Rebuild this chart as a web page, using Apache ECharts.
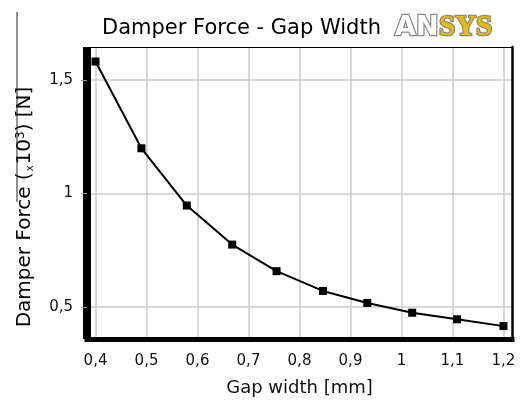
<!DOCTYPE html>
<html>
<head>
<meta charset="utf-8">
<script src="https://cdn.jsdelivr.net/npm/echarts@6/dist/echarts.min.js"></script>
<style>
  html, body { margin: 0; padding: 0; background: #fff; }
  #chart { width: 521px; height: 402px; }
</style>
</head>
<body>
<div id="chart"></div>
<script>
// Gap width [mm] and corresponding damper force [x10^3 N]
const gapWidth = [0.4, 0.49, 0.579, 0.668, 0.755, 0.846, 0.933, 1.021, 1.109, 1.2];
const damperForce = [1.581, 1.199, 0.947, 0.775, 0.658, 0.571, 0.518, 0.475, 0.446, 0.416];

// Tick positions shown on each axis
const xTicks = [0.4, 0.5, 0.6, 0.7, 0.8, 0.9, 1.0, 1.1, 1.2];
const yTicks = [0.5, 1, 1.5];

const chartTitle = 'Damper Force - Gap Width';
const xTitle = 'Gap width [mm]';

const FONT = 'DejaVu Sans';
const decimalComma = v => String(+v.toFixed(2)).replace('.', ',');

const chart = echarts.init(document.getElementById('chart'), null, { renderer: 'canvas' });

const gridLine = { show: true, lineStyle: { color: '#cdcdcd', width: 1.5 } };
const bare = {
  axisLabel: { show: false }, axisTick: { show: false }, splitLine: { show: false }
};

chart.setOption({
  animation: false,
  backgroundColor: '#fff',
  grid: { left: 87, right: 9, top: 47, bottom: 58, containLabel: false },
  xAxis: [
    {
      type: 'value', position: 'bottom',
      min: 0.3833, max: 1.2167,
      axisLine: { show: true, onZero: false, lineStyle: { color: '#000', width: 5, cap: 'square' } },
      axisTick: { show: false, customValues: xTicks },
      splitLine: gridLine,
      axisLabel: {
        customValues: xTicks, formatter: decimalComma,
        color: '#111', fontFamily: FONT, fontSize: 15, margin: 15
      },
      name: xTitle, nameLocation: 'middle', nameGap: 40,
      nameTextStyle: { color: '#111', fontFamily: FONT, fontSize: 18 }
    },
    {
      type: 'value', position: 'top', min: 0.3833, max: 1.2167,
      axisLine: { show: true, lineStyle: { color: '#000', width: 1.2 } }, ...bare
    }
  ],
  yAxis: [
    {
      type: 'value', position: 'left',
      min: 0.3593, max: 1.645,
      axisLine: { show: true, onZero: false, lineStyle: { color: '#000', width: 8, cap: 'butt' } },
      axisTick: { show: true, customValues: yTicks, length: 6, lineStyle: { color: '#999', width: 1 } },
      splitLine: gridLine,
      axisLabel: {
        customValues: yTicks, formatter: decimalComma,
        color: '#111', fontFamily: FONT, fontSize: 15, margin: 14
      }
    },
    {
      type: 'value', position: 'right', min: 0.3593, max: 1.645,
      axisLine: { show: true, lineStyle: { color: '#000', width: 2.5 } }, ...bare
    }
  ],
  series: [{
    type: 'line',
    data: gapWidth.map((x, i) => [x, damperForce[i]]),
    symbol: 'rect', symbolSize: 8,
    itemStyle: { color: '#000' },
    lineStyle: { color: '#000', width: 2 },
    z: 5
  }],
  graphic: [
    {
      type: 'text', x: 241.5, y: 28.5,
      style: {
        text: chartTitle, fontFamily: FONT, fontSize: 21, fill: '#000',
        align: 'center', verticalAlign: 'middle'
      }
    },
    {
      type: 'text', x: 395, y: 28,
      style: {
        text: 'AN', fontFamily: FONT, fontWeight: 'bold', fontSize: 27,
        fill: '#fff', stroke: '#8a8a8a', lineWidth: 2.5,
        align: 'left', verticalAlign: 'middle'
      }
    },
    {
      type: 'text', x: 439, y: 28,
      style: {
        text: 'SYS', fontFamily: 'Liberation Serif', fontWeight: 'bold', fontSize: 29,
        fill: '#e6bd00', stroke: '#8a8a8a', lineWidth: 2.5,
        align: 'left', verticalAlign: 'middle'
      }
    },
    {
      type: 'text', x: 25, y: 207, rotation: Math.PI / 2,
      style: {
        text: '{a|Damper Force (}{s|x}{a|10}{u|3}{a|) [N]}',
        align: 'center', verticalAlign: 'middle',
        rich: {
          a: { fontFamily: FONT, fontSize: 20, color: '#111' },
          s: { fontFamily: FONT, fontSize: 10, color: '#111', verticalAlign: 'bottom', padding: [0, 1, 0, 1] },
          u: { fontFamily: FONT, fontSize: 12, color: '#111', verticalAlign: 'top' }
        }
      }
    },
    {
      type: 'line', shape: { x1: 17, y1: 12, x2: 17, y2: 202 },
      style: { stroke: '#222', lineWidth: 1 }
    }
  ]
});
</script>
</body>
</html>
